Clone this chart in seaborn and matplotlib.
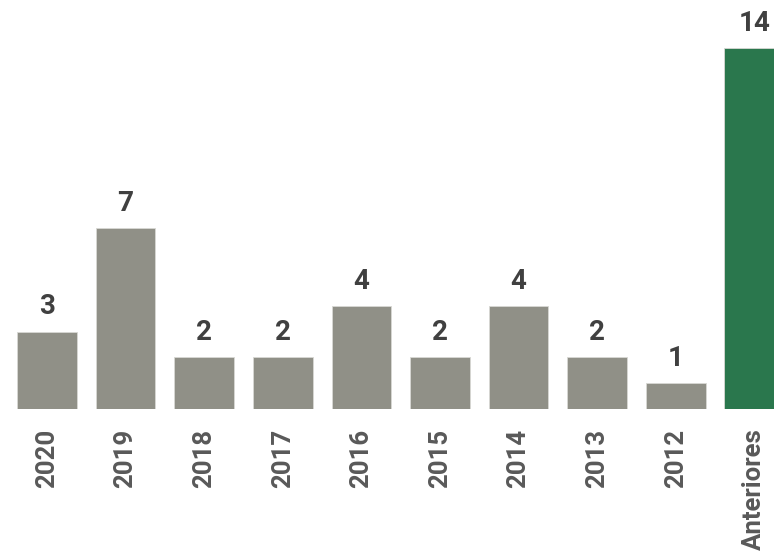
import matplotlib
matplotlib.use("Agg")
import matplotlib.pyplot as plt
import seaborn as sns
import pandas as pd

categories = ["2020", "2019", "2018", "2017", "2016", "2015", "2014", "2013", "2012", "Anteriores"]
values = [3, 7, 2, 2, 4, 2, 4, 2, 1, 14]
groups = ["año"] * 9 + ["anteriores"]

sns.set_style("white")
plt.rcParams["font.family"] = ["Roboto", "DejaVu Sans"]

df = pd.DataFrame({"categoria": categories, "valor": values, "grupo": groups})
palette = {"año": "#909087", "anteriores": "#2a774d"}

fig = plt.figure(figsize=(7.74, 5.56), dpi=100)
ax = fig.add_axes([0, 147 / 556, 1, 387 / 556])

sns.barplot(data=df, x="categoria", y="valor", hue="grupo", palette=palette,
            dodge=False, width=0.76, legend=False, ax=ax, saturation=1,
            edgecolor="#d8d8d4", linewidth=0.6)

for cont in ax.containers:
    ax.bar_label(cont, fmt="%d", padding=8, fontsize=20, fontweight="bold",
                 color="#404040")

ax.set_xlim(-0.598, 9.25)
ax.set_ylim(0, 15)
ax.set_xlabel("")
ax.set_ylabel("")
ax.set_yticks([])
ax.tick_params(axis="x", length=0, pad=14)
for lbl in ax.get_xticklabels():
    lbl.set_rotation(90)
    lbl.set_fontsize(18.5)
    lbl.set_fontweight("bold")
    lbl.set_color("#595959")
    lbl.set_va("top")
    lbl.set_ha("center")
sns.despine(ax=ax, left=True, bottom=True, top=True, right=True)

fig.savefig("out.png", dpi=100)
